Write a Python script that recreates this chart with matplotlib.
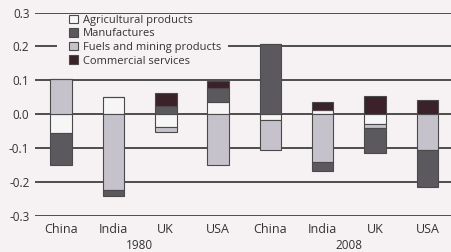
import matplotlib
matplotlib.use("Agg")
import matplotlib.pyplot as plt
import numpy as np
from matplotlib.patches import Patch, Rectangle

plt.rcParams['font.family'] = ['Open Sans', 'DejaVu Sans']

# data (net trade shares, by product group)
countries = ["China", "India", "UK", "USA", "China", "India", "UK", "USA"]
years = ["1980", "2008"]
agri = [-0.057, 0.050, -0.037, 0.037, -0.018, 0.012, -0.030, 0.000]
fuels = [0.105, -0.225, -0.015, -0.149, -0.087, -0.142, -0.012, -0.105]
manuf = [-0.093, -0.017, 0.025, 0.039, 0.207, -0.025, -0.074, -0.110]
comm = [0.000, 0.000, 0.038, 0.022, 0.000, 0.024, 0.055, 0.041]

labels = ["Agricultural products", "Manufactures",
          "Fuels and mining products", "Commercial services"]
colors = ["#f7f6f7", "#5b595e", "#c6c2cc", "#3b2129"]
bg = "#f6f2f4"
ink = "#333333"

fig = plt.figure(figsize=(4.52, 2.52), dpi=100, facecolor=bg)
ax = fig.add_axes([0.0774, 0.144, 0.9226, 0.806], facecolor=bg)

x = np.arange(len(countries))
pos = np.zeros(len(x))
neg = np.zeros(len(x))
# stack outward from zero: agri, fuels, manufactures, services
for vals, col in [(agri, colors[0]), (fuels, colors[2]), (manuf, colors[1]), (comm, colors[3])]:
    v = np.array(vals)
    base = np.where(v >= 0, pos, neg)
    ax.bar(x, v, width=0.41, bottom=base, color=col, edgecolor="#4a4a4a",
           linewidth=0.8, zorder=2)
    pos = pos + np.clip(v, 0, None)
    neg = neg + np.clip(v, None, 0)

ax.set_xlim(-0.5, 7.47)
ax.set_ylim(-0.3, 0.3)
ax.set_yticks([0.3, 0.2, 0.1, 0.0, -0.1, -0.2, -0.3])
ax.set_yticklabels(["0.3", "0.2", "0.1", "0.0", "-0.1", "-0.2", "-0.3"])
ax.yaxis.grid(True, color="#404040", linewidth=1.3)
ax.set_axisbelow(True)
ax.tick_params(axis="y", length=0, pad=4, labelsize=8.5, labelcolor=ink)
ax.set_xticks(x)
ax.set_xticklabels(countries)
ax.tick_params(axis="x", length=0, pad=5, labelsize=9, labelcolor=ink)
for s in ax.spines.values():
    s.set_visible(False)

# year labels under each group
for xc, yr in zip([1.5, 5.5], years):
    ax.text(xc, -0.145, yr, transform=ax.get_xaxis_transform(), ha="center",
            va="center", fontsize=8.5, color=ink)

# blank patch behind the legend
ax.add_patch(Rectangle((0.053, 0.7), 0.41, 0.29, transform=ax.transAxes,
                       facecolor=bg, edgecolor="none", zorder=1))
handles = [Patch(facecolor=c, edgecolor="#4a4a4a", linewidth=0.8) for c in colors]
leg = ax.legend(handles, labels, loc="upper left", bbox_to_anchor=(0.078, 0.995),
                frameon=False, fontsize=8, handlelength=0.8, handleheight=0.8,
                handletextpad=0.45, labelspacing=0.22, borderpad=0.1,
                borderaxespad=0)
for t in leg.get_texts():
    t.set_color(ink)

fig.savefig("out.png", dpi=100, facecolor=bg)
